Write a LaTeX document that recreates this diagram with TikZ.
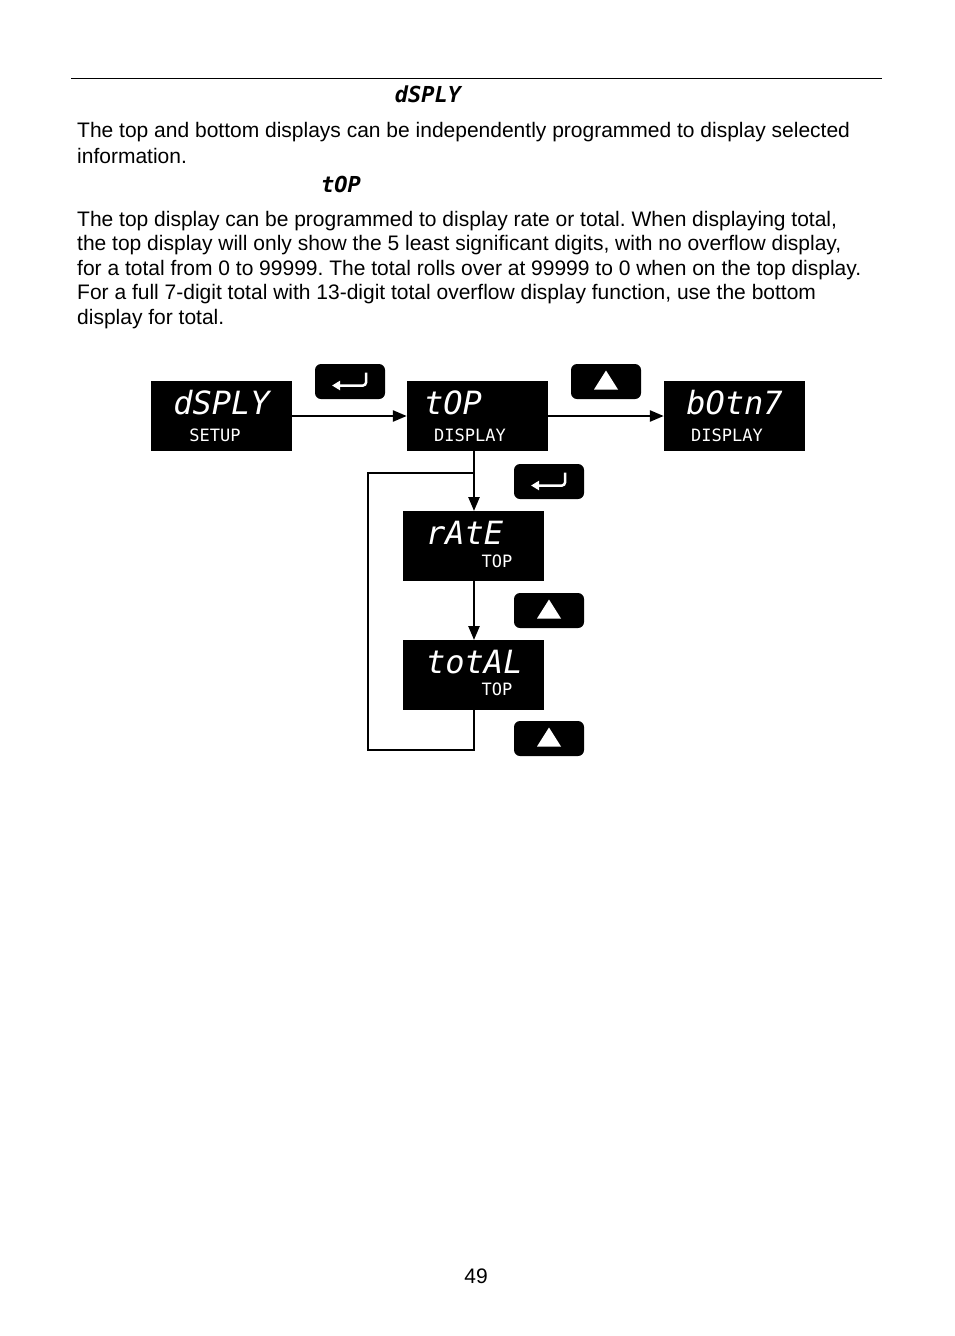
\documentclass[tikz,border=0pt]{standalone}
\usepackage{fontspec}
\setmainfont{Liberation Sans}
\newfontfamily\lcd{DejaVu Sans Mono}
\usetikzlibrary{arrows.meta}
\frenchspacing
\begin{document}
\begin{tikzpicture}[x=1pt,y=-1pt,
  txt/.style={anchor=west,inner sep=0pt,font=\fontsize{21}{24}\selectfont,yshift=-2pt},
  disp/.style={fill=black,minimum width=141pt,minimum height=70pt,inner sep=0pt},
  btn/.style={fill=black,rounded corners=6pt,minimum width=70pt,minimum height=35pt,inner sep=0pt},
  big/.style={text=white,font=\lcd\itshape\fontsize{32}{32}\selectfont,inner sep=0pt},
  small/.style={text=white,font=\lcd\fontsize{17}{17}\selectfont,inner sep=0pt},
  arr/.style={line width=2.5pt,-{Triangle[length=14pt,width=11pt]}},
  ln/.style={line width=2.5pt},
  ent/.style={white,line width=2.5pt,-{Triangle[length=8pt,width=9pt]}}]
\useasboundingbox (0,0) rectangle (954,1336);
\fill[white] (0,0) rectangle (954,1336);
\draw[line width=1pt] (71,78) -- (882,78);
\node[inner sep=0pt,font=\lcd\itshape\bfseries\fontsize{22}{22}\selectfont] (h1) at (428,94) {dSPLY};
\node[txt] (p1) at (77,130) {The top and bottom displays can be independently programmed to display selected};
\node[txt] (p2) at (77,154) {information.};
\node[inner sep=0pt,font=\lcd\itshape\bfseries\fontsize{22}{22}\selectfont] (h2) at (341,184) {tOP};
\node[txt] (q1) at (77,219) {The top display can be programmed to display rate or total. When displaying total,};
\node[txt] (q2) at (77,243) {the top display will only show the 5 least significant digits, with no overflow display,};
\node[txt] (q3) at (77,268) {for a total from 0 to 99999. The total rolls over at 99999 to 0 when on the top display.};
\node[txt] (q4) at (77,292) {For a full 7-digit total with 13-digit total overflow display function, use the bottom};
\node[txt] (q5) at (77,317) {display for total.};

\node[disp] (d1) at (221.5,416) {};
\node[big] at (221.5,403) {dSPLY};
\node[small] at (215,435) {SETUP};
\node[disp] (d2) at (477.5,416) {};
\node[big,anchor=west] at (424,403) {tOP};
\node[small] at (470,435) {DISPLAY};
\node[disp] (d3) at (734.5,416) {};
\node[big] at (734.5,403) {bOtn7};
\node[small] at (727,435) {DISPLAY};
\node[disp] (d4) at (473.5,546) {};
\node[big,anchor=west] at (426,533) {rAtE};
\node[small] at (497,561) {TOP};
\node[disp] (d5) at (473.5,675) {};
\node[big,anchor=west] at (426,662) {totAL};
\node[small] at (497,689) {TOP};

\node[btn] (b1) at (350,381.5) {};
\draw[ent,rounded corners=3pt] (b1.center) +(16,-9) -- +(16,4) -- +(-18,4);
\node[btn] (b2) at (606,381.5) {};
\fill[white] (b2.center) +(-12,8) -- +(12,8) -- +(0,-11) -- cycle;
\node[btn] (b3) at (549,481.5) {};
\draw[ent,rounded corners=3pt] (b3.center) +(16,-9) -- +(16,4) -- +(-18,4);
\node[btn] (b4) at (549,610.5) {};
\fill[white] (b4.center) +(-12,8) -- +(12,8) -- +(0,-11) -- cycle;
\node[btn] (b5) at (549,738.5) {};
\fill[white] (b5.center) +(-12,8) -- +(12,8) -- +(0,-11) -- cycle;

\draw[arr] (d1.east) -- (d2.west);
\draw[arr] (d2.east) -- (d3.west);
\coordinate (j) at (474,451);
\draw[arr] (j) -- (474,511);
\draw[arr] (474,581) -- (474,640);
\coordinate (c1) at (474,710);
\draw[ln,line join=miter] (c1) -- (474,750) -- (368,750) -- (368,473) -- (474,473);

\node[inner sep=0pt,font=\fontsize{21}{24}\selectfont] (pg) at (476,1276) {49};
\end{tikzpicture}
\end{document}
